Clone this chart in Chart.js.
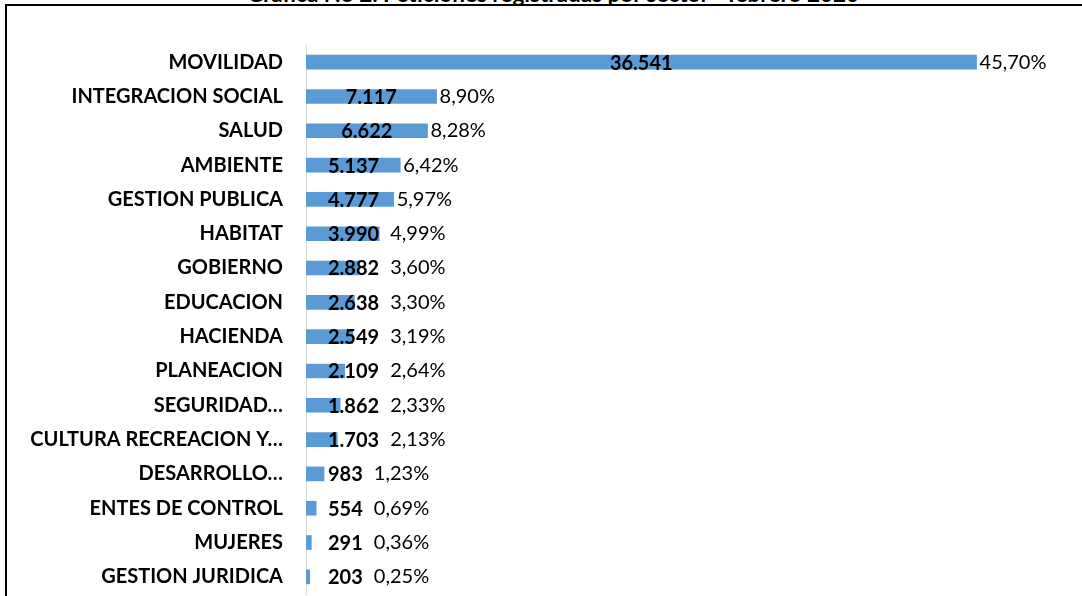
<!DOCTYPE html>
<html>
<head>
<meta charset="utf-8">
<script src="https://cdn.jsdelivr.net/npm/chart.js@4.4.1/dist/chart.umd.min.js"></script>
<style>
  html, body { margin: 0; padding: 0; background: #fff; overflow: hidden; width: 1082px; height: 596px; }
  #title { position: absolute; left: 12px; top: -20px; width: 1082px; text-align: center;
           font: bold 22.5px Lato, sans-serif; line-height: 27px; color: #000; white-space: nowrap; }
  #frame { position: absolute; left: 5px; top: 4px; width: 1200px; height: 800px;
           border: 2px solid #000; box-sizing: border-box; }
  #c { position: absolute; left: 0; top: 0; }
</style>
</head>
<body>
<div id="title">Gráfica No 2. Peticiones registradas por sector - febrero 2020</div>
<div id="frame"></div>
<canvas id="c" width="1082" height="596"></canvas>
<script>
const categories = ['MOVILIDAD','INTEGRACION SOCIAL','SALUD','AMBIENTE','GESTION PUBLICA','HABITAT','GOBIERNO','EDUCACION','HACIENDA','PLANEACION','SEGURIDAD…','CULTURA RECREACION Y…','DESARROLLO…','ENTES DE CONTROL','MUJERES','GESTION JURIDICA'];
const values = [36541,7117,6622,5137,4777,3990,2882,2638,2549,2109,1862,1703,983,554,291,203];
const pctLabels = ['45,70%','8,90%','8,28%','6,42%','5,97%','4,99%','3,60%','3,30%','3,19%','2,64%','2,33%','2,13%','1,23%','0,69%','0,36%','0,25%'];
const xMax = 40000;

function fmt(n) { return String(n).replace(/\B(?=(\d{3})+(?!\d))/g, '.'); }

const labelPlugin = {
  id: 'barLabels',
  afterDatasetsDraw(chart) {
    const ctx = chart.ctx;
    const meta = chart.getDatasetMeta(0);
    ctx.save();
    ctx.fillStyle = '#000';
    ctx.textBaseline = 'middle';
    meta.data.forEach((bar, i) => {
      const start = bar.base, end = bar.x, y = bar.y;
      ctx.font = 'bold 20px Lato, sans-serif';
      const txt = fmt(values[i]);
      const w = ctx.measureText(txt).width;
      const left = Math.max((start + end) / 2 - w / 2, start + 22);
      ctx.textAlign = 'left';
      ctx.fillText(txt, left, y + 1);
      ctx.font = '20px Lato, sans-serif';
      const pl = Math.max(end + 3, left + w + 11);
      ctx.fillText(pctLabels[i], pl, y);
    });
    ctx.restore();
  }
};

new Chart(document.getElementById('c'), {
  type: 'bar',
  data: {
    labels: categories,
    datasets: [{ data: values, backgroundColor: '#5b9bd5', borderWidth: 0, barThickness: 14 }]
  },
  options: {
    indexAxis: 'y',
    responsive: false,
    animation: false,
    layout: { padding: { top: 45, bottom: 2, right: 42, left: 0 } },
    plugins: { legend: { display: false }, tooltip: { enabled: false }, title: { display: false } },
    scales: {
      x: { display: false, min: 0, max: xMax },
      y: {
        grid: { display: false, drawTicks: false },
        border: { display: true, color: '#d9d9d9', width: 1 },
        ticks: { color: '#000', padding: 23, font: { family: 'Lato', weight: 'bold', size: 20 } },
        afterFit(scale) { scale.width = 306; scale.paddingTop = 0; scale.paddingBottom = 0; }
      }
    }
  },
  plugins: [labelPlugin]
});
</script>
</body>
</html>
